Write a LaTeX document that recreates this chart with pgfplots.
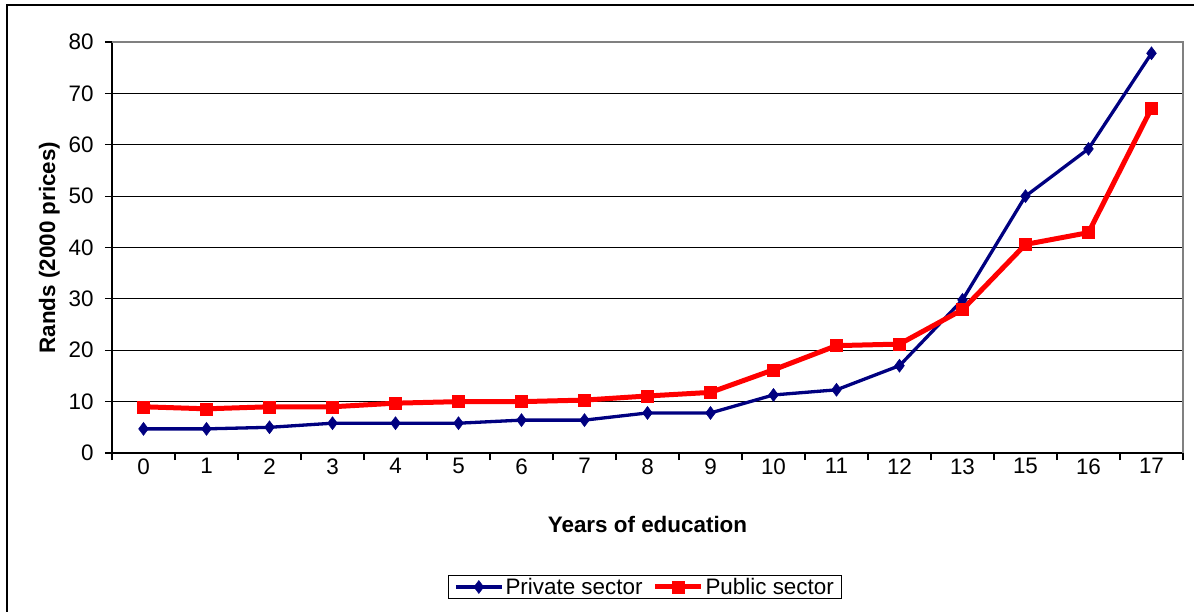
\documentclass[border=0pt]{standalone}
\usepackage{pgfplots}
\pgfplotsset{compat=1.18}
\usepackage{fontspec}
\setmainfont{Liberation Sans}
\definecolor{privnavy}{RGB}{0,0,128}
\definecolor{pubred}{RGB}{255,0,0}
\newcommand{\chartfont}{\fontsize{22.5}{27}\selectfont}

\begin{document}
\begin{tikzpicture}
\useasboundingbox (0,0) rectangle (1194bp,-612bp);
% chart area frame
\draw[line width=2bp,black] (7bp,-660bp) -- (7bp,-5bp) -- (1240bp,-5bp);
\begin{axis}[
  name=ax,
  at={(112bp,-453bp)}, anchor=south west,
  scale only axis,
  width=1071bp, height=411bp,
  xmin=-0.5, xmax=16.5,
  ymin=0, ymax=80,
  axis lines*=left,
  axis line style={line width=1.4bp,black},
  xtick={0,...,16},
  xticklabels={0,1,2,3,4,5,6,7,8,9,10,11,12,13,15,16,17},
  minor xtick={-0.5,0.5,...,16.5},
  ytick={0,10,...,80},
  tick align=outside,
  major x tick style={draw=none},
  minor tick length=7bp,
  major tick length=7bp,
  tick style={line width=1.2bp,black},
  ymajorgrids,
  major grid style={line width=1.2bp,black},
  /pgf/number format/assume math mode=true,
  ticklabel style={font=\chartfont},
  xticklabel style={yshift=5bp},
  yticklabel style={xshift=-8bp},
  xlabel={\bfseries Years of education},
  ylabel={\bfseries Rands (2000 prices)},
  label style={font=\chartfont},
  xlabel style={yshift=-35bp},
  ylabel style={yshift=2bp},
  legend columns=2,
  legend style={at={(0.4977,-0.326)}, anchor=center, draw=black, line width=1.2bp,
    font=\chartfont, inner xsep=6bp, inner ysep=1bp,
    /tikz/every even column/.append style={column sep=8bp}},
  legend image code/.code={\draw[mark repeat=2,mark phase=2] plot coordinates {(0bp,0bp) (23bp,0bp) (46bp,0bp)};},
]
\addplot[color=privnavy, line width=3.3bp, mark=diamond*, mark size=6.5bp,
  mark options={solid,fill=privnavy,draw=privnavy,line width=0.5bp}]
  coordinates {(0,4.7) (1,4.7) (2,5.0) (3,5.8) (4,5.8) (5,5.8) (6,6.4) (7,6.4)
    (8,7.8) (9,7.8) (10,11.3) (11,12.3) (12,17.0) (13,29.8) (14,50.0) (15,59.2) (16,77.8)};
\addlegendentry{Private sector}
\addplot[color=pubred, line width=5bp, mark=square*, mark size=6bp,
  mark options={solid,fill=pubred,draw=pubred,line width=0.5bp}]
  coordinates {(0,9.0) (1,8.6) (2,9.0) (3,9.0) (4,9.7) (5,10.0) (6,10.0) (7,10.3)
    (8,11.1) (9,11.8) (10,16.2) (11,20.9) (12,21.2) (13,27.9) (14,40.6) (15,42.9) (16,67.1)};
\addlegendentry{Public sector}
\end{axis}
% grey plot-area border on top and right
\draw[line width=1.4bp,gray] (ax.north west) -- (ax.north east) -- (ax.south east);
\end{tikzpicture}
\end{document}
